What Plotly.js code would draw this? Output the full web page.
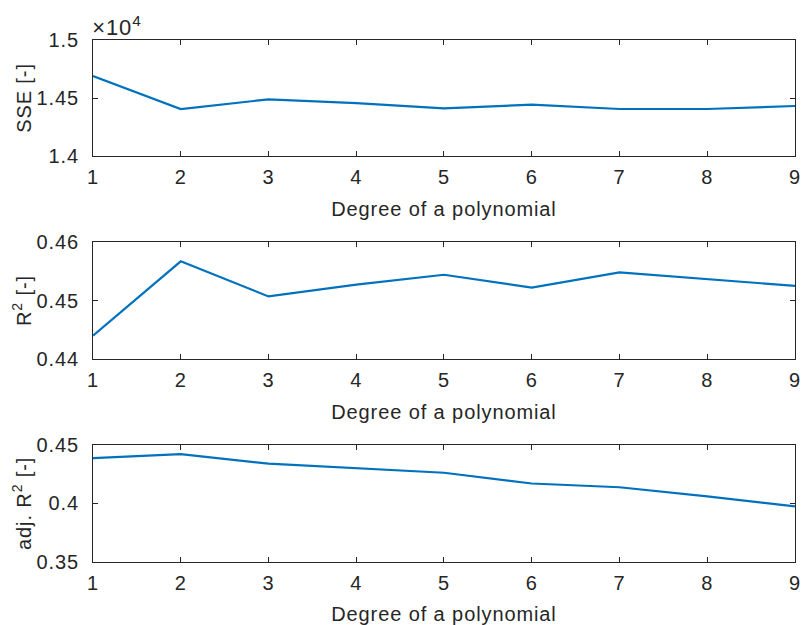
<!DOCTYPE html>
<html>
<head>
<meta charset="utf-8">
<script src="https://cdn.plot.ly/plotly-3.0.1.min.js"></script>
<style>html,body{margin:0;padding:0;background:#fff;}#chart{width:803px;height:625px;}#chart text{letter-spacing:0.9px;}</style>
</head>
<body>
<div id="chart"></div>
<script>
const degrees = [1, 2, 3, 4, 5, 6, 7, 8, 9];
const sse = [14690, 14405, 14488, 14455, 14410, 14443, 14405, 14405, 14431];
const r2 = [0.4440, 0.4567, 0.4507, 0.4527, 0.4544, 0.4522, 0.4548, 0.4536, 0.4525];
const adjR2 = [0.4388, 0.4422, 0.4340, 0.4299, 0.4262, 0.4170, 0.4138, 0.4060, 0.3974];
const sseTicks = [14000, 14500, 15000];
const sseTickText = ['1.4', '1.45', '1.5'];
const r2Ticks = [0.44, 0.45, 0.46];
const r2TickText = ['0.44', '0.45', '0.46'];
const adjTicks = [0.35, 0.4, 0.45];
const adjTickText = ['0.35', '0.4', '0.45'];
const xTitle = 'Degree of a polynomial';

const lineColor = '#0072BD';
const axCol = '#262626';
const fnt = {family: 'Liberation Sans, Arial, sans-serif', size: 20, color: axCol};

function xax(anchor) {
  return {
    anchor: anchor, domain: [0.1158, 0.990], range: [1, 9],
    tickvals: degrees, ticks: 'inside', ticklen: 5, tickcolor: axCol,
    showline: true, linecolor: axCol, linewidth: 1, mirror: 'ticks',
    showgrid: false, zeroline: false, tickfont: fnt, ticklabelstandoff: 3,
    title: {text: xTitle, font: fnt, standoff: 14}
  };
}
function yax(anchor, dom, rng, tv, tt, title) {
  return {
    anchor: anchor, domain: dom, range: rng,
    tickvals: tv, ticktext: tt, ticks: 'inside', ticklen: 5, tickcolor: axCol,
    showline: true, linecolor: axCol, linewidth: 1, mirror: 'ticks',
    showgrid: false, zeroline: false, tickfont: fnt, ticklabelstandoff: 9,
    title: {text: title, font: fnt, standoff: 3}
  };
}

const traces = [
  {x: degrees, y: sse, xaxis: 'x', yaxis: 'y', type: 'scatter', mode: 'lines', line: {color: lineColor, width: 2.2}},
  {x: degrees, y: r2, xaxis: 'x2', yaxis: 'y2', type: 'scatter', mode: 'lines', line: {color: lineColor, width: 2.2}},
  {x: degrees, y: adjR2, xaxis: 'x3', yaxis: 'y3', type: 'scatter', mode: 'lines', line: {color: lineColor, width: 2.2}}
];

const layout = {
  width: 803, height: 625,
  margin: {l: 0, r: 0, t: 0, b: 0},
  paper_bgcolor: '#fff', plot_bgcolor: '#fff',
  showlegend: false,
  xaxis: xax('y'), xaxis2: xax('y2'), xaxis3: xax('y3'),
  yaxis: yax('x', [0.7504, 0.936], [14000, 15000], sseTicks, sseTickText, 'SSE [-]'),
  yaxis2: yax('x2', [0.4256, 0.6128], [0.44, 0.46], r2Ticks, r2TickText, 'R<sup>2</sup> [-]'),
  yaxis3: yax('x3', [0.1013, 0.288], [0.35, 0.45], adjTicks, adjTickText, 'adj. R<sup>2</sup> [-]'),
  annotations: [
    {text: '×10<sup>4</sup>', xref: 'paper', yref: 'paper', x: 0.1158, y: 0.936, xanchor: 'left', yanchor: 'bottom', showarrow: false,
     font: {family: fnt.family, size: 22, color: axCol}, xshift: -1, yshift: -2}
  ]
};

Plotly.newPlot('chart', traces, layout, {displayModeBar: false, staticPlot: true});
</script>
</body>
</html>
